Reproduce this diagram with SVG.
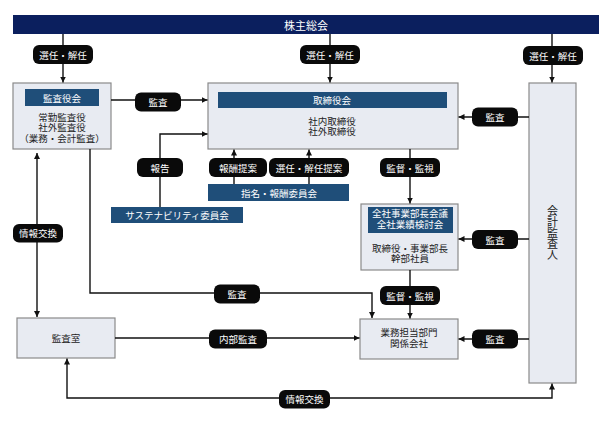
<svg xmlns="http://www.w3.org/2000/svg" width="613" height="424" viewBox="0 0 613 424">
<style>
text{font-family:"Noto Sans CJK JP","Noto Sans",sans-serif;font-size:9.5px;text-anchor:middle;dominant-baseline:central}
.box{fill:#e8ebf2;stroke:#8a8a8a;stroke-width:1.2}
.hdr{fill:#1f4e79}
.wt{fill:#ffffff}
.bk{fill:#222222}
.lbl{fill:#0a0a0a}
.ln{fill:none;stroke:#111111;stroke-width:1.4}
.ar{marker-end:url(#ah)}
.ar2{marker-end:url(#ah);marker-start:url(#ah)}
.vt{writing-mode:vertical-rl;font-size:11px}
</style>
<defs>
<marker id="ah" viewBox="0 0 10 10" refX="10" refY="5" markerWidth="6" markerHeight="6" markerUnits="userSpaceOnUse" orient="auto-start-reverse">
<path d="M0,0 L10,5 L0,10 z" fill="#111111"/>
</marker>
</defs>
<rect width="613" height="424" fill="#ffffff"/>

<g id="shareholders">
<rect x="13" y="15" width="586" height="19" fill="#0b1f5e"/>
<text x="306" y="24.5" class="wt" style="font-size:11px">株主総会</text>
</g>

<g id="kansayakukai">
<rect class="box" x="13" y="83" width="98" height="66"/>
<rect class="hdr" x="25" y="89" width="74" height="17"/>
<text x="62" y="97.5" class="wt">監査役会</text>
<text x="62" y="116.5" class="bk">常勤監査役</text>
<text x="62" y="127" class="bk">社外監査役</text>
<text x="62" y="138" class="bk">（業務・会計監査）</text>
</g>

<g id="torishimariyakukai">
<rect class="box" x="208" y="83" width="250" height="66"/>
<rect class="hdr" x="218" y="92" width="229" height="16"/>
<text x="332" y="100" class="wt">取締役会</text>
<text x="332" y="120.5" class="bk">社内取締役</text>
<text x="332" y="131" class="bk">社外取締役</text>
</g>

<g id="kaikeikansanin">
<rect class="box" x="529" y="83" width="47" height="300"/>
<text x="552.5" y="232.5" class="bk vt">会計監査人</text>
</g>

<g id="sustainability">
<rect class="hdr" x="111" y="207" width="132" height="16"/>
<text x="177" y="215" class="wt">サステナビリティ委員会</text>
</g>

<g id="shimei">
<rect class="hdr" x="208" y="184" width="141" height="17"/>
<text x="279" y="192.5" class="wt">指名・報酬委員会</text>
</g>

<g id="bucho">
<rect class="box" x="361" y="204" width="97" height="66"/>
<rect class="hdr" x="368" y="207" width="85" height="26"/>
<text x="410" y="213" class="wt">全社事業部長会議</text>
<text x="410" y="224" class="wt">全社業績検討会</text>
<text x="410" y="247.5" class="bk">取締役・事業部長</text>
<text x="410" y="257.5" class="bk">幹部社員</text>
</g>

<g id="gyomu">
<rect class="box" x="360" y="319" width="98" height="40"/>
<text x="409" y="331.5" class="bk">業務担当部門</text>
<text x="409" y="342.5" class="bk">関係会社</text>
</g>

<g id="kansashitsu">
<rect class="box" x="17" y="318" width="98" height="40"/>
<text x="66" y="338" class="bk">監査室</text>
</g>

<g id="connectors">
<path class="ln ar" d="M63 34 V82.5"/>
<path class="ln ar" d="M330 34 V82.5"/>
<path class="ln ar" d="M552 34 V82.5"/>
<path class="ln ar" d="M111 100 H207.5"/>
<path class="ln ar" d="M529 117 H458.5"/>
<path class="ln ar" d="M410 149 V203.5"/>
<path class="ln ar" d="M529 239 H458.5"/>
<path class="ln ar" d="M410 270 V318.5"/>
<path class="ln ar" d="M529 339 H458.5"/>
<path class="ln ar2" d="M37 153 V317"/>
<path class="ln ar" d="M90 149 V293 H372 V318"/>
<path class="ln ar" d="M115 338 H359.5"/>
<path class="ln ar2" d="M552 383.5 V398 H67 V358.5"/>
<path class="ln ar" d="M160 207 V134 H207.5"/>
<path class="ln ar" d="M234 184 V149.5"/>
<path class="ln ar" d="M309 184 V149.5"/>

<rect class="lbl" x="33" y="45" width="60" height="19" rx="6"/>
<text x="63" y="54.5" class="wt">選任・解任</text>
<rect class="lbl" x="300" y="45" width="60" height="19" rx="6"/>
<text x="330" y="54.5" class="wt">選任・解任</text>
<rect class="lbl" x="523" y="46" width="60" height="19" rx="6"/>
<text x="553" y="55.5" class="wt">選任・解任</text>
<rect class="lbl" x="135" y="92.5" width="46" height="19" rx="6"/>
<text x="158" y="102" class="wt">監査</text>
<rect class="lbl" x="472" y="107.5" width="46" height="19" rx="6"/>
<text x="495" y="117" class="wt">監査</text>
<rect class="lbl" x="380" y="158" width="60" height="19" rx="6"/>
<text x="410" y="167.5" class="wt">監督・監視</text>
<rect class="lbl" x="472" y="230" width="46" height="19" rx="6"/>
<text x="495" y="239.5" class="wt">監査</text>
<rect class="lbl" x="380" y="286" width="60" height="19" rx="6"/>
<text x="410" y="295.5" class="wt">監督・監視</text>
<rect class="lbl" x="472" y="329.5" width="46" height="19" rx="6"/>
<text x="495" y="339" class="wt">監査</text>
<rect class="lbl" x="13" y="224" width="50" height="18.5" rx="6"/>
<text x="38" y="233.2" class="wt">情報交換</text>
<rect class="lbl" x="214" y="284.5" width="46" height="19" rx="6"/>
<text x="237" y="294" class="wt">監査</text>
<rect class="lbl" x="209" y="329.5" width="58" height="19" rx="6"/>
<text x="238" y="339" class="wt">内部監査</text>
<rect class="lbl" x="279" y="390" width="51" height="18.5" rx="6"/>
<text x="304.5" y="399.2" class="wt">情報交換</text>
<rect class="lbl" x="137" y="158" width="46" height="19" rx="6"/>
<text x="160" y="167.5" class="wt">報告</text>
<rect class="lbl" x="209" y="158" width="58" height="19" rx="6"/>
<text x="238" y="167.5" class="wt">報酬提案</text>
<rect class="lbl" x="269" y="158" width="80" height="19" rx="6"/>
<text x="309" y="167.5" class="wt">選任・解任提案</text>
</g>
</svg>
